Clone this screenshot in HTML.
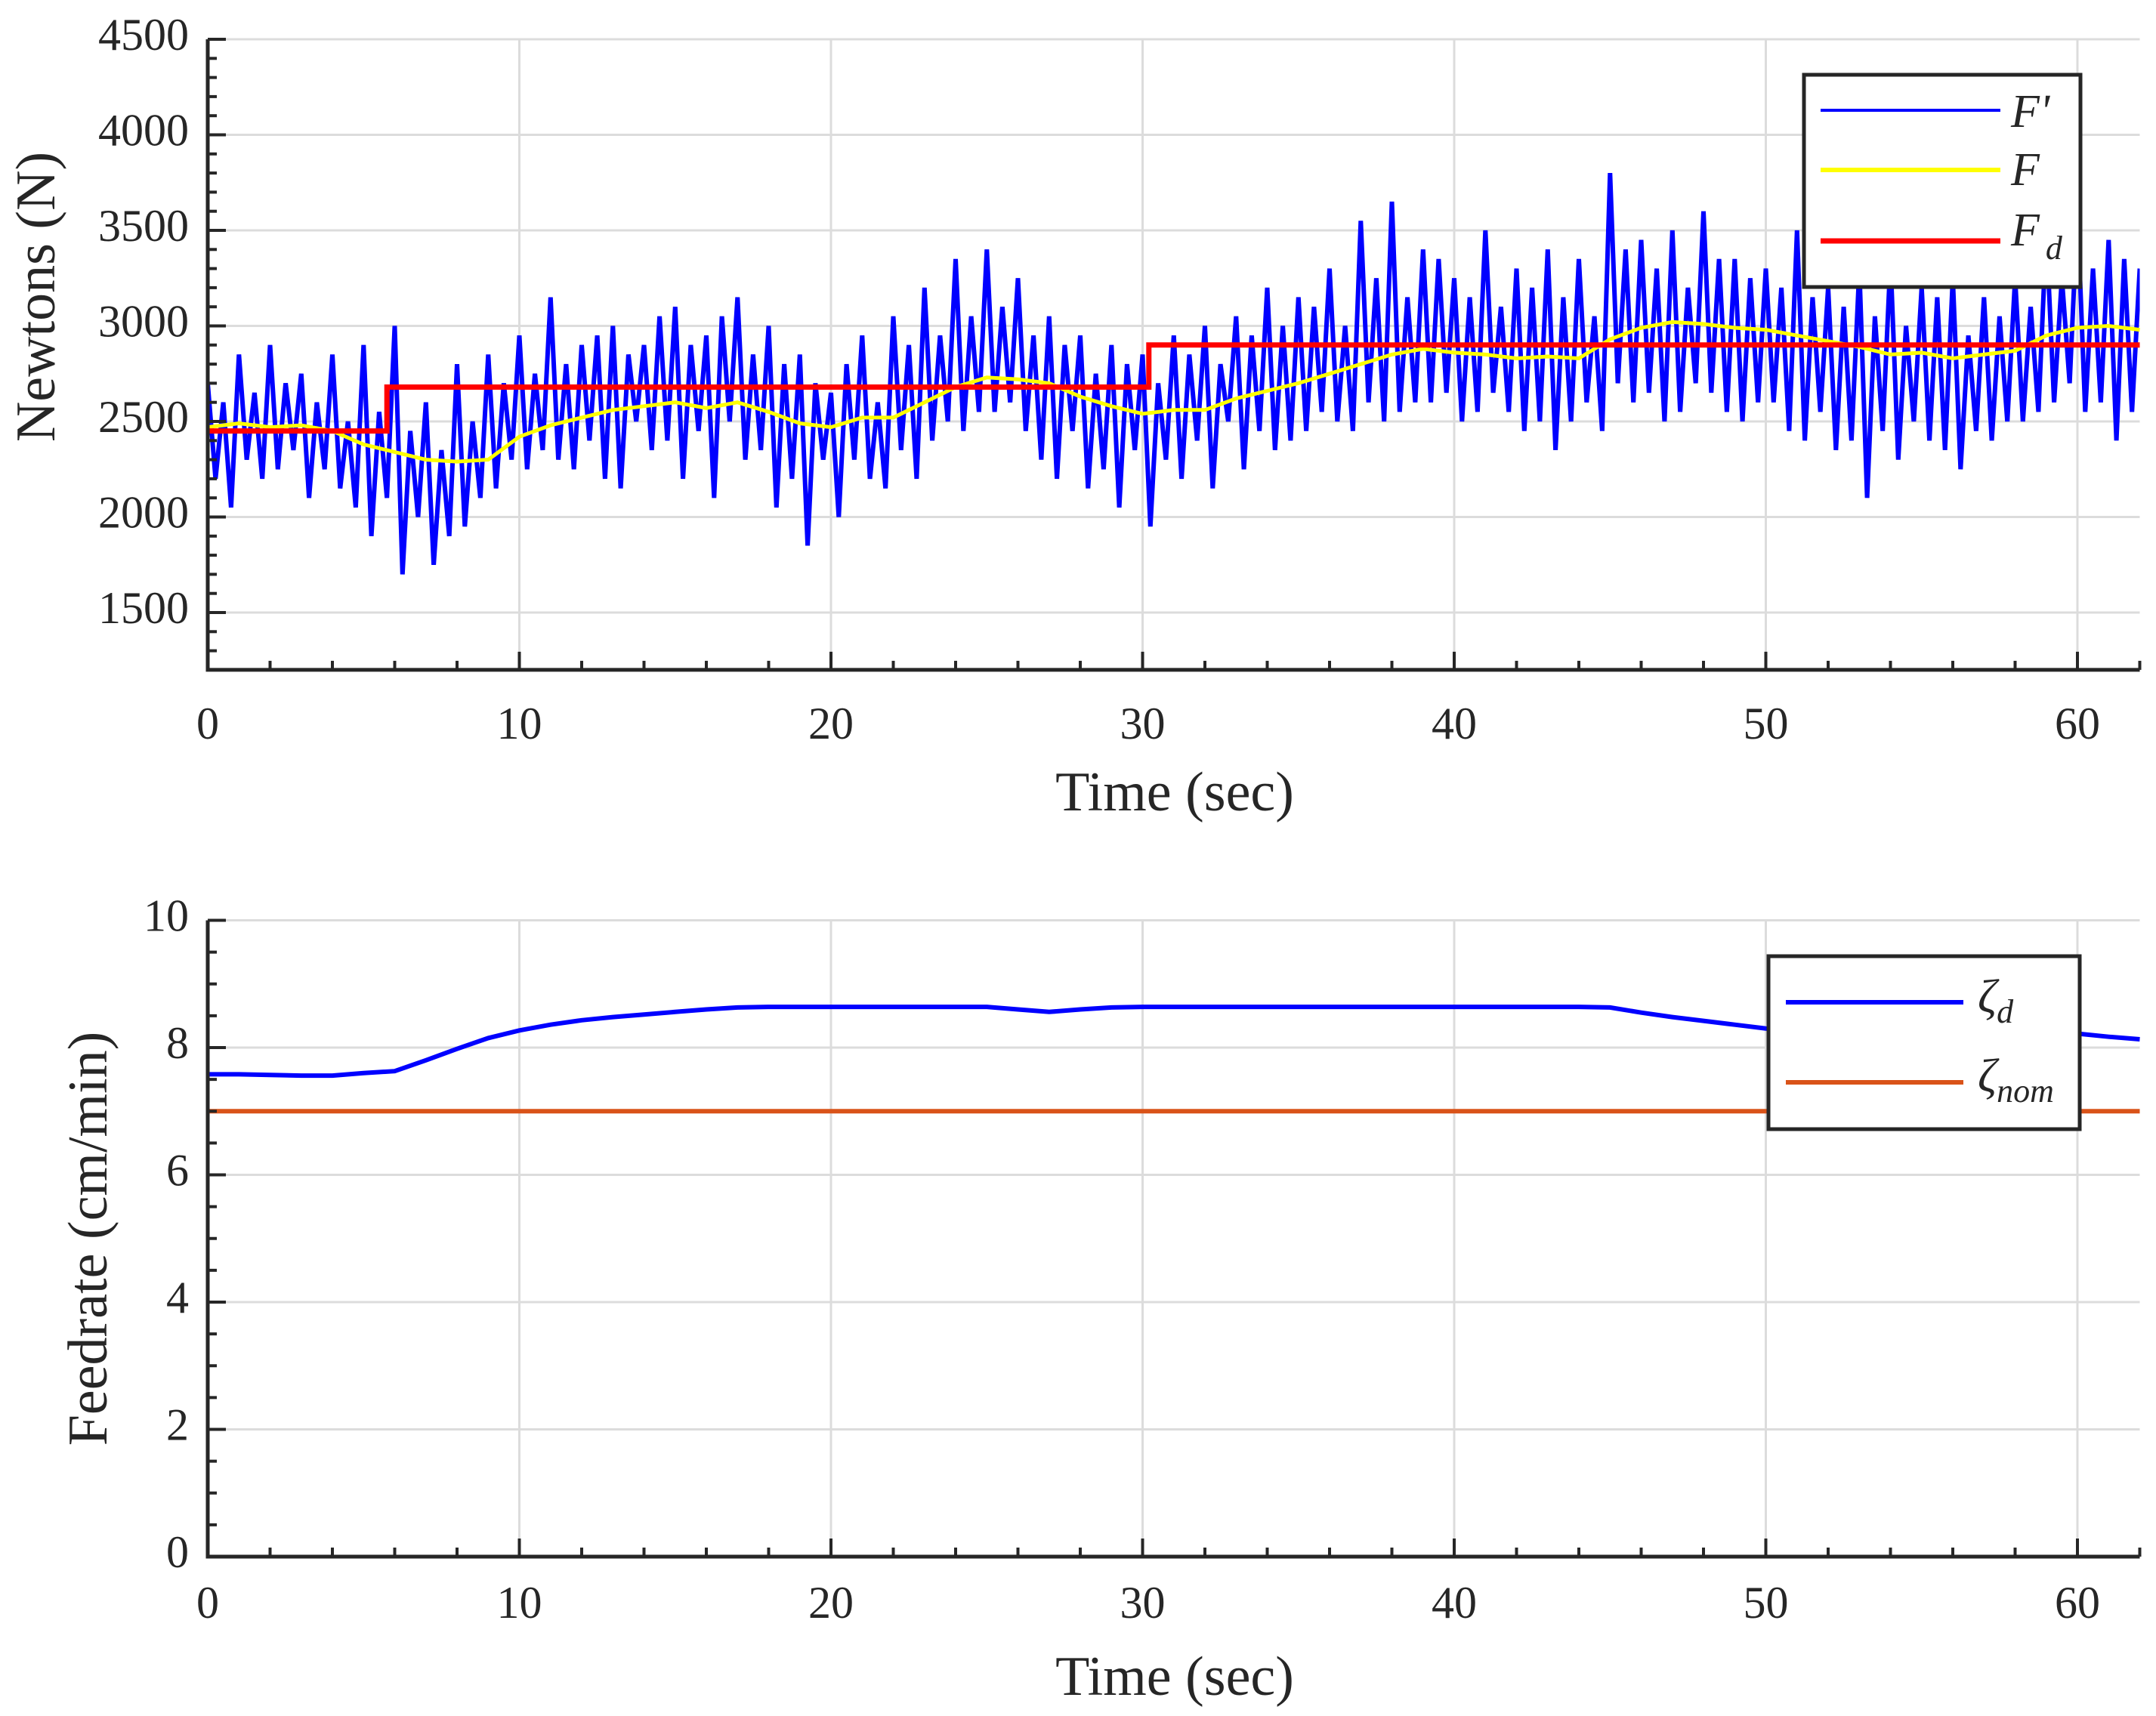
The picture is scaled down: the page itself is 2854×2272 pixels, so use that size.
<!DOCTYPE html>
<html><head><meta charset="utf-8"><style>
html,body{margin:0;padding:0;background:#fff;}
svg{display:block;}
text{font-family:"Liberation Serif",serif;fill:#262626;}
</style></head><body>
<svg id="chart" width="2854" height="2272" viewBox="0 0 2854 2272" xmlns="http://www.w3.org/2000/svg">
<rect x="0" y="0" width="2854" height="2272" fill="#fff"/>
<g id="top"></g>
<g id="bot"></g>
<text x="55" y="393" font-size="74" text-anchor="middle" dominant-baseline="middle" transform="rotate(-90 55 393)">Newtons (N)</text>
<text x="1555" y="1056" font-size="74" text-anchor="middle" dominant-baseline="middle">Time (sec)</text>
<text x="124" y="1640" font-size="74" text-anchor="middle" dominant-baseline="middle" transform="rotate(-90 124 1640)">Feedrate (cm/min)</text>
<text x="1555" y="2227" font-size="74" text-anchor="middle" dominant-baseline="middle">Time (sec)</text>
</svg>
<script>
// ---- data ----
var fPrimeStep = 0.25;
var fPrime = [
2700,2200,2600,2050, 2850,2300,2650,2200, 2900,2250,2700,2350, 2750,2100,2600,2250,
2850,2150,2500,2050, 2900,1900,2550,2100, 3000,1700,2450,2000, 2600,1750,2350,1900,
2800,1950,2500,2100, 2850,2150,2700,2300, 2950,2250,2750,2350, 3150,2300,2800,2250,
2900,2400,2950,2200, 3000,2150,2850,2500, 2900,2350,3050,2400, 3100,2200,2900,2450,
2950,2100,3050,2500, 3150,2300,2850,2350, 3000,2050,2800,2200, 2850,1850,2700,2300,
2650,2000,2800,2300, 2950,2200,2600,2150, 3050,2350,2900,2200, 3200,2400,2950,2500,
3350,2450,3050,2550, 3400,2550,3100,2600, 3250,2450,2950,2300, 3050,2200,2900,2450,
2950,2150,2750,2250, 2900,2050,2800,2350, 2850,1950,2700,2300, 2950,2200,2850,2400,
3000,2150,2800,2500, 3050,2250,2950,2450, 3200,2350,3000,2400, 3150,2450,3100,2550,
3300,2500,3000,2450, 3550,2600,3250,2500, 3650,2550,3150,2600, 3400,2600,3350,2650,
3250,2500,3150,2550, 3500,2650,3100,2550, 3300,2450,3200,2500, 3400,2350,3150,2500,
3350,2600,3050,2450, 3800,2700,3400,2600, 3450,2650,3300,2500, 3500,2550,3200,2700,
3600,2650,3350,2550, 3350,2500,3250,2600, 3300,2600,3200,2450, 3500,2400,3150,2550,
3200,2350,3100,2400, 3300,2100,3050,2450, 3350,2300,3000,2500, 3200,2400,3150,2350,
3250,2250,2950,2450, 3150,2400,3050,2500, 3250,2500,3100,2550, 3500,2600,3250,2700,
3600,2550,3300,2600, 3450,2400,3350,2550, 3300];
var fFiltered = [2470,2490,2470,2480,2450,2380,2340,2300,2290,2300,2420,2480,2520,2560,2580,2600,2570,2600,2550,2490,2470,2520,2520,2600,2680,2730,2720,2700,2630,2580,2540,2560,2560,2620,2660,2700,2750,2800,2850,2880,2860,2850,2830,2840,2830,2930,2990,3020,3010,2990,2980,2950,2920,2890,2850,2860,2830,2850,2870,2950,2990,3000,2980];
var fdTimes = [0,5.75,30.2,62];
var fdValues = [2450,2680,2900];
var zetaD = [7.58,7.58,7.57,7.56,7.56,7.6,7.63,7.8,7.98,8.15,8.27,8.36,8.43,8.48,8.52,8.56,8.6,8.63,8.64,8.64,8.64,8.64,8.64,8.64,8.64,8.64,8.6,8.56,8.6,8.63,8.64,8.64,8.64,8.64,8.64,8.64,8.64,8.64,8.64,8.64,8.64,8.64,8.64,8.64,8.64,8.63,8.55,8.48,8.42,8.36,8.3,8.28,8.27,8.26,8.25,8.25,8.24,8.24,8.23,8.23,8.22,8.17,8.13];
var zetaNom = 7.0;
var xTicks = [0,10,20,30,40,50,60];
var topYTicks = [1500,2000,2500,3000,3500,4000,4500];
var botYTicks = [0,2,4,6,8,10];

var NS = "http://www.w3.org/2000/svg";
function mk(parent, tag, attrs){var e=document.createElementNS(NS,tag);for(var k in attrs)e.setAttribute(k,attrs[k]);parent.appendChild(e);return e;}

var X0=275, XPER=41.25, XMAX=62;
function sx(t){return X0+t*XPER;}
var xRight = sx(XMAX);
function tyTop(v){return 52+(4500-v)/500*126.5;}
var topBottom = tyTop(1200);
function tyBot(v){return 2061-v*84.25;}

function drawAxes(g, ybot, ytop, yTicks, yfn, minorY, name){
  xTicks.forEach(function(t){
    var l=mk(g,'line',{x1:sx(t),x2:sx(t),y1:ytop,y2:ybot,stroke:'#dcdcdc','stroke-width':3});
    
    
  });
  yTicks.forEach(function(v){
    var l=mk(g,'line',{x1:X0,x2:xRight,y1:yfn(v),y2:yfn(v),stroke:'#dcdcdc','stroke-width':3});
    
    
  });
}
function drawFrame(g, ybot, ytop, yTicks, yfn, minorY, yLabelFmt, xLabelY, name){
  var ax=mk(g,'path',{d:'M'+X0+' '+ytop+' V'+ybot+' H'+xRight,fill:'none',stroke:'#262626','stroke-width':5});
  
  
  for(var t=0;t<=XMAX;t+=2){
    var major = t%10===0;
    var tk=mk(g,'line',{x1:sx(t),x2:sx(t),y1:ybot,y2:ybot-(major?24:12),stroke:'#262626','stroke-width':4});
    
    
  }
  minorY.forEach(function(v){
    var major = yTicks.indexOf(v)>=0;
    var tk=mk(g,'line',{x1:X0,x2:X0+(major?24:12),y1:yfn(v),y2:yfn(v),stroke:'#262626','stroke-width':4});
    
    
  });
  xTicks.forEach(function(t){
    var tx=mk(g,'text',{x:sx(t),y:xLabelY,'font-size':60,'text-anchor':'middle','dominant-baseline':'middle'});
    tx.textContent=t;
    
    
  });
  yTicks.forEach(function(v){
    var tx=mk(g,'text',{x:250,y:yfn(v),'font-size':60,'text-anchor':'end','dominant-baseline':'middle'});
    tx.textContent=v;
    
    
  });
}

// ---- top plot ----
var gt=document.getElementById('top');
drawAxes(gt, topBottom, 52, topYTicks, tyTop, [], 'top');
var clipT=mk(gt,'clipPath',{id:'ct'});mk(clipT,'rect',{x:X0,y:52,width:xRight-X0,height:topBottom-52});
var d='';
fPrime.forEach(function(v,i){d+=(i?'L':'M')+sx(i*fPrimeStep).toFixed(1)+' '+tyTop(v).toFixed(1);});
var pb=mk(gt,'path',{d:d,fill:'none',stroke:'#0000ff','stroke-width':6,'stroke-linejoin':'miter','clip-path':'url(#ct)'});


d='';
fFiltered.forEach(function(v,i){d+=(i?'L':'M')+sx(i).toFixed(1)+' '+tyTop(v).toFixed(1);});
var py=mk(gt,'path',{d:d,fill:'none',stroke:'#ffff00','stroke-width':5});


d='';
fdValues.forEach(function(v,i){d+=(i?'L':'M')+sx(fdTimes[i]).toFixed(1)+' '+tyTop(v).toFixed(1)+' L'+sx(fdTimes[i+1]).toFixed(1)+' '+tyTop(v).toFixed(1);});
var pr=mk(gt,'path',{d:d,fill:'none',stroke:'#ff0000','stroke-width':7});


var topMinor=[];for(var v=1300;v<=4500;v+=100)topMinor.push(v);
drawFrame(gt, topBottom, 52, topYTicks, tyTop, topMinor, null, 964, 'top');

// ---- bottom plot ----
var gb=document.getElementById('bot');
drawAxes(gb, tyBot(0), tyBot(10), botYTicks, tyBot, [], 'bottom');
var zn=mk(gb,'line',{x1:X0,x2:xRight,y1:tyBot(zetaNom),y2:tyBot(zetaNom),stroke:'#d95319','stroke-width':6});


d='';
zetaD.forEach(function(v,i){d+=(i?'L':'M')+sx(i).toFixed(1)+' '+tyBot(v).toFixed(1);});
var zd=mk(gb,'path',{d:d,fill:'none',stroke:'#0000ff','stroke-width':6});


var botMinor=[];for(var v=0;v<=10.001;v+=0.5)botMinor.push(Math.round(v*10)/10);
drawFrame(gb, tyBot(0), tyBot(10), botYTicks, tyBot, botMinor, null, 2128, 'bottom');
</script>
<svg style="position:absolute;left:0;top:0" width="2854" height="2272" xmlns="http://www.w3.org/2000/svg">
<g>
<rect x="2388" y="99" width="366" height="281" fill="#fff" stroke="#262626" stroke-width="5"/>
<line x1="2410" x2="2648" y1="146" y2="146" stroke="#0000ff" stroke-width="4"/>
<line x1="2410" x2="2648" y1="225" y2="225" stroke="#ffff00" stroke-width="6"/>
<line x1="2410" x2="2648" y1="319" y2="319" stroke="#ff0000" stroke-width="7"/>
<text x="2662" y="168" font-size="62" font-style="italic">F'</text>
<text x="2662" y="245" font-size="62" font-style="italic">F</text>
<text x="2662" y="325" font-size="62" font-style="italic">F<tspan font-size="44" dy="18" dx="8">d</tspan></text>
</g>
<g>
<rect x="2341" y="1266" width="412" height="229" fill="#fff" stroke="#262626" stroke-width="5"/>
<line x1="2364" x2="2599" y1="1327" y2="1327" stroke="#0000ff" stroke-width="6"/>
<line x1="2364" x2="2599" y1="1433" y2="1433" stroke="#d95319" stroke-width="6"/>
<text x="2618" y="1340" font-size="62" font-style="italic">ζ<tspan font-size="44" dy="14">d</tspan></text>
<text x="2618" y="1445" font-size="62" font-style="italic">ζ<tspan font-size="44" dy="14">nom</tspan></text>
</g>
</svg>
</body></html>
